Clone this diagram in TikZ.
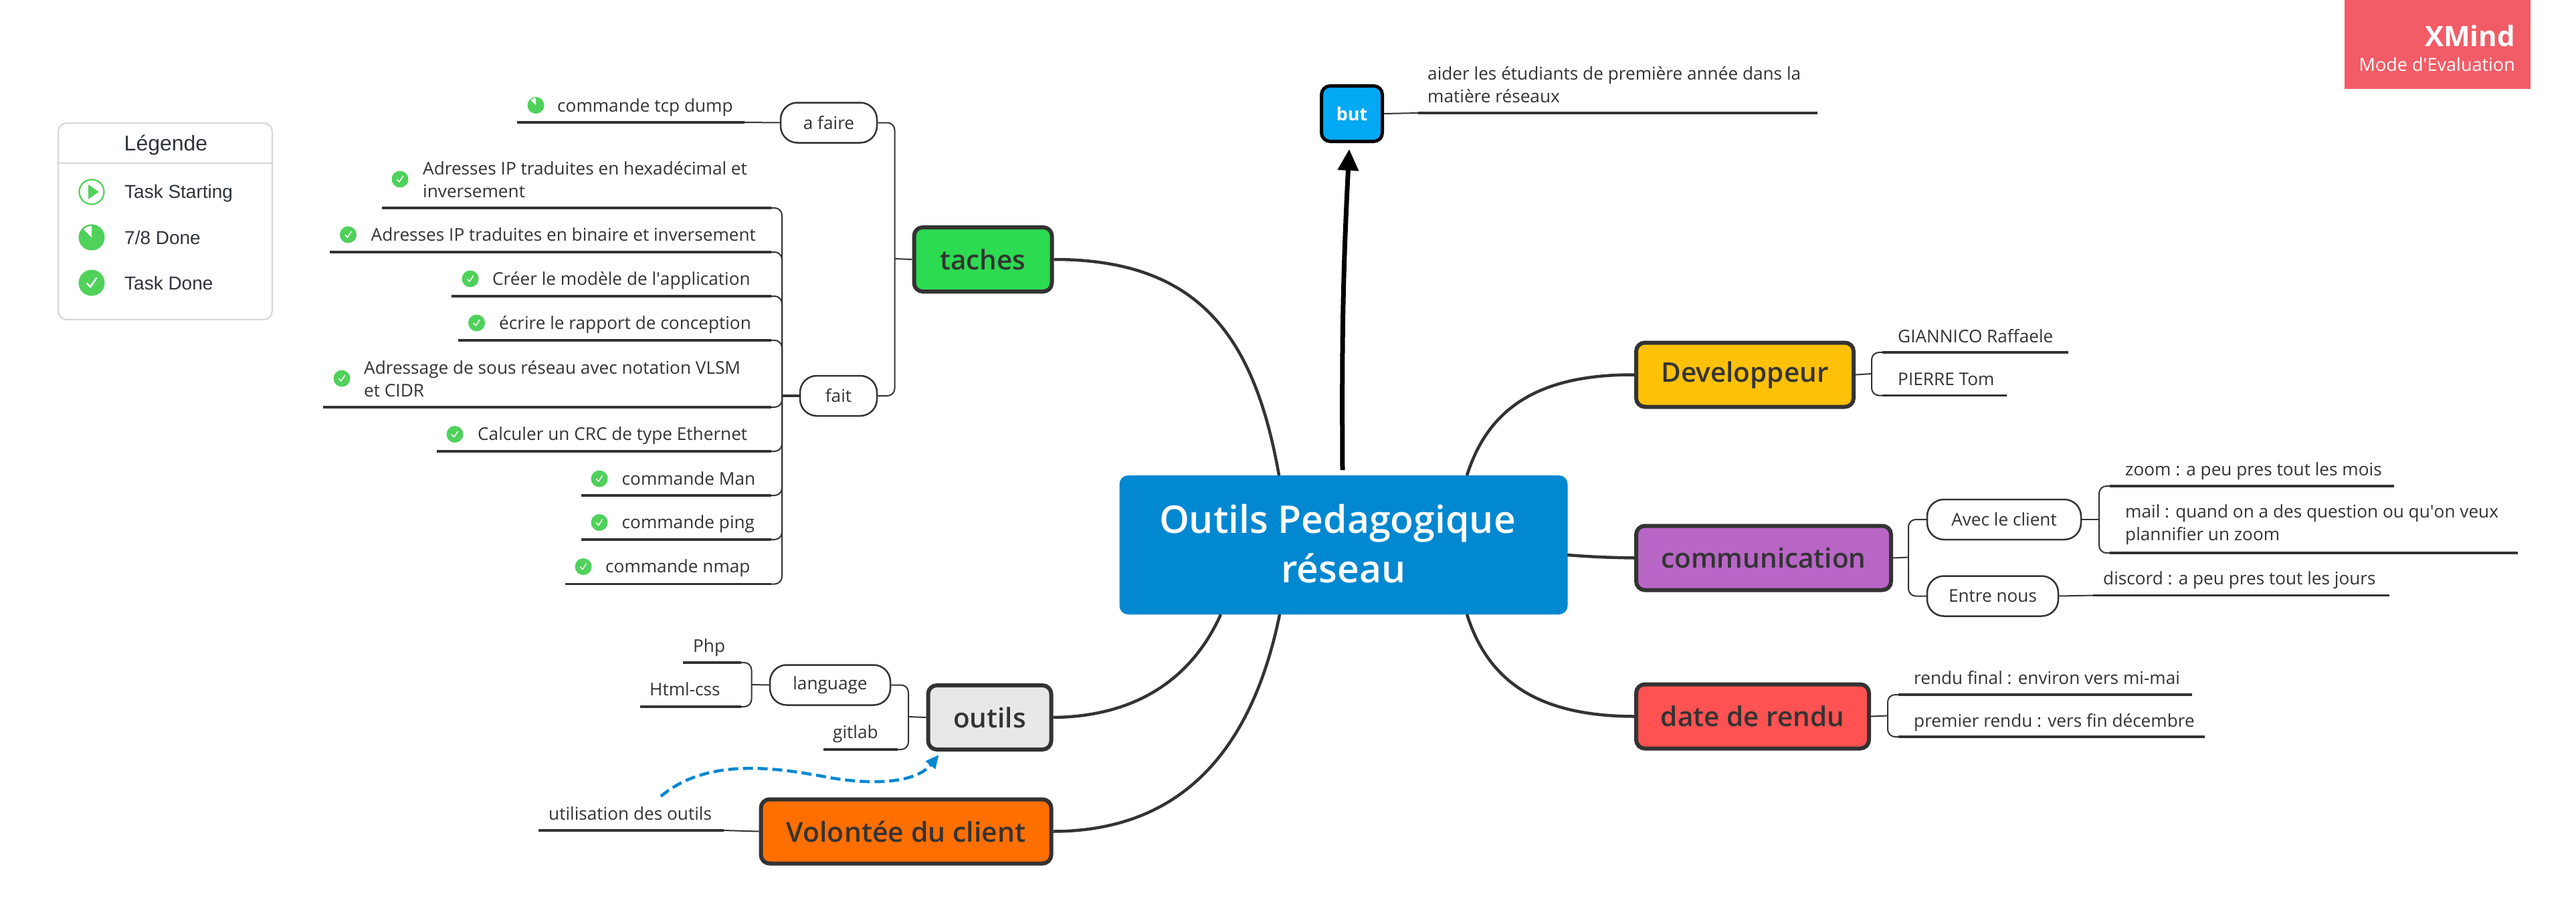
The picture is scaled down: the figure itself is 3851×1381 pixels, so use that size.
\documentclass[tikz,border=0pt]{standalone}
\usepackage{fontspec}
\usetikzlibrary{arrows.meta,calc}
\setmainfont{Open Sans}
\newfontfamily\legendfont{Liberation Sans}
\newfontfamily\semifont{Open Sans Semibold}
\newfontfamily\rootfont{Open Sans Semibold}
\definecolor{ink}{HTML}{333333}
\definecolor{legendink}{HTML}{2F343B}
\definecolor{legendline}{HTML}{D6D6D6}
\definecolor{doneg}{HTML}{4FD15A}
\newcommand\fs[2]{\fontsize{#1}{#2}\selectfont}
\newcommand\branch[2]{\draw[thinline,rounded corners=11pt] (#1) |- (#2); \draw[thickline,shorten >=16pt] (#2) -- (#2 -| #1);}
\newcommand\tickicon[3][12.5pt]{\fill[doneg] (#2,#3) circle [radius=#1];
  \begin{scope}[shift={(#2,#3)}]\pgfmathsetmacro\ss{#1/12.5pt}\draw[white,line width=\ss*1.6pt,line cap=round,line join=round] (-\ss*4.5,\ss*0.5) -- (-\ss*1.2,\ss*4) -- (\ss*4.5,-\ss*4.5);\end{scope}}
\newcommand\partdone[3][12.5pt]{\fill[doneg] (#2,#3) circle [radius=#1];
  \pgfmathsetmacro\rr{#1*0.87}\fill[white] (#2,#3) -- ++(0pt,\rr pt) arc (90:135:\rr pt) -- cycle;}
\tikzset{
  thinline/.style={line width=2pt,draw=ink},
  thickline/.style={line width=3.5pt,draw=ink},
  maincurve/.style={line width=4.5pt,draw=ink},
  topic/.style={draw=ink,line width=6pt,rounded corners=13pt,text=ink,inner sep=0pt,font=\semifont\fs{40.5}{48},align=center},
  pill/.style={draw=ink,fill=white,line width=2.5pt,rounded corners=25pt,text=ink,inner sep=0pt,font=\fs{26.2}{32},minimum height=60pt},
  leaf/.style={anchor=base west,inner sep=0pt,text=ink,font=\fs{26.2}{34}},
  leaftwo/.style={anchor=west,inner sep=0pt,text=ink,font=\fs{26.2}{34},align=left},
  legendtext/.style={anchor=west,inner sep=0pt,text=legendink,font=\legendfont\fs{28}{32}},
}
\begin{document}
\begin{tikzpicture}[x=1pt,y=-1pt]
\useasboundingbox (0,0) rectangle (3851,1381);
% watermark
\fill[fill={rgb,255:red,242;green,92;blue,102}] (3505,0) rectangle (3783,133);
\node[anchor=base east,inner sep=0pt,text=white,font=\fs{42}{48}\bfseries] (wm1) at (3760,70) {XMind};
\node[anchor=base east,inner sep=0pt,text=white,font=\fs{27}{32}] (wm2) at (3760,106) {Mode d\textquotesingle Evaluation};
% legend
\draw[legendline,line width=2.2pt,rounded corners=13pt] (87,184) rectangle (407,478);
\draw[legendline,line width=2.2pt] (87,244) -- (407,244);
\node[anchor=center,inner sep=0pt,text=legendink,font=\legendfont\fs{32}{36}] (lg) at (248,217) {Légende};
\node[legendtext] (lg1) at (186,289) {Task Starting};
\node[legendtext] (lg2) at (186,355) {7/8 Done};
\node[legendtext] (lg3) at (186,423) {Task Done};
\draw[doneg,line width=2.2pt] (137,287) circle [radius=18.5pt];
\fill[doneg] (132,276) -- (147.5,287) -- (132,298) -- cycle;
\partdone[19.5pt]{137}{355}
\tickicon[19.5pt]{137}{423}
% central
\node[fill={rgb,255:red,2;green,136;blue,209},rounded corners=13pt,minimum width=670pt,minimum height=208pt,inner sep=0pt,text=white,font=\rootfont\fs{57}{74},align=center] (root) at (2008.5,815) {Outils Pedagogique\hspace*{18pt}\\réseau\rule[-4pt]{0pt}{1pt}};
% topics
\node[topic,fill={rgb,255:red,44;green,219;blue,80},minimum width=206pt,minimum height=96pt] (taches) at (1469.5,388) {taches};
\node[topic,fill={rgb,255:red,232;green,232;blue,232},minimum width=184pt,minimum height=96pt] (outils) at (1479.5,1073) {outils};
\node[topic,fill={rgb,255:red,255;green,111;blue,0},minimum width=434pt,minimum height=96pt] (volonte) at (1354.5,1243.5) {\fs{41}{48}Volontée du client};
\node[topic,fill={rgb,255:red,255;green,193;blue,7},minimum width=325pt,minimum height=96pt] (dev) at (2608.5,560.5) {Developpeur};
\node[topic,fill={rgb,255:red,184;green,102;blue,198},minimum width=381pt,minimum height=96pt] (comm) at (2636.5,834.5) {communication};
\node[topic,fill={rgb,255:red,255;green,82;blue,82},minimum width=348pt,minimum height=96pt] (date) at (2620,1071.5) {date de rendu};
\node[topic,draw=black,line width=5pt,fill={rgb,255:red,3;green,169;blue,244},text=white,font=\fs{27}{32}\bfseries,minimum width=91pt,minimum height=83pt] (but) at (2021,170) {but};
% main curves
\draw[maincurve] (1912,711) .. controls (1875,500) and (1790,388) .. (taches.east);
\draw[maincurve] (2193,711) .. controls (2225,610) and (2300,560) .. (dev.west);
\draw[maincurve] (2343,830) .. controls (2380,833) and (2410,834) .. (comm.west);
\draw[maincurve] (2193,919) .. controls (2225,1020) and (2300,1071) .. (date.west);
\draw[maincurve] (1825,919) .. controls (1775,1030) and (1680,1072) .. (outils.east);
\draw[maincurve] (1913,919) .. controls (1870,1130) and (1760,1243) .. (volonte.east);
% arrow to but
\coordinate (arrA) at (2007,703);
\coordinate (arrB) at (2017,223);
\draw[line width=7pt,black,-{Triangle[length=32pt,width=30pt]}] (arrA) .. controls (2006,520) and (2007,420) .. (arrB);
% but leaf
\coordinate (butL) at (2120,169);
\coordinate (butR) at (2717,169);
\draw[thinline] (but.east) -- (butL);
\draw[thickline] (butL) -- (butR);
\node[leaftwo] (butT) at (2134,126.5) {aider les étudiants de première année dans la\\matière réseaux};
% taches branches
\coordinate (tT) at (1337.5,387);
\node[pill,minimum width=144pt] (afaire) at (1239,183.5) {a faire};
\node[pill,minimum width=115pt] (fait) at (1253.5,592) {fait};
\draw[thinline] (taches.west) -- (tT);
\draw[thinline,rounded corners=11pt] (tT) |- (afaire.east);
\draw[thinline,rounded corners=11pt] (tT) |- (fait.east);
% a faire
\coordinate (afL) at (773,183);
\coordinate (afM) at (1113,183);
\draw[thinline] (afaire.west) -- (afM);
\draw[thickline] (afL) -- (afM);
\partdone{801}{157.5}
\node[leaf] (af1) at (833,167) {commande tcp dump};
% fait
\coordinate (fT) at (1169,592);
\draw[thickline] (fait.west) -- (fT);
\foreach \n/\lx/\ly in {f1/571/311,f2/493/377,f3/675/443,f4/685/509,f5/483/609,f6/653/675,f7/869/741,f8/869/807,f9/845/873.5}{
  \coordinate (\n) at (\lx,\ly);
  \branch{fT}{\n}
}
\tickicon{598}{268}
\node[leaftwo] (f1t) at (632,268.5) {Adresses IP traduites en hexadécimal et\\inversement};
\tickicon{520.5}{351}
\node[leaf] (f2t) at (554.5,360) {Adresses IP traduites en binaire et inversement};
\tickicon{703}{417}
\node[leaf] (f3t) at (736,426) {Créer le modèle de l\textquotesingle application};
\tickicon{712.5}{483}
\node[leaf] (f4t) at (746,492) {écrire le rapport de conception};
\tickicon{511}{566}
\node[leaftwo] (f5t) at (544,566.5) {Adressage de sous réseau avec notation VLSM\\et CIDR};
\tickicon{680}{649.5}
\node[leaf] (f6t) at (714,658.5) {Calculer un CRC de type Ethernet};
\tickicon{896}{716}
\node[leaf] (f7t) at (929.5,725) {commande Man};
\tickicon{896}{781.5}
\node[leaf] (f8t) at (929.5,790.5) {commande ping};
\tickicon{872}{847.5}
\node[leaf] (f9t) at (905,856.5) {commande nmap};
% outils branches
\coordinate (oT) at (1358,1072);
\node[pill,minimum width=180pt] (lang) at (1241,1024.5) {language};
\draw[thinline] (outils.west) -- (oT);
\draw[thinline,rounded corners=11pt] (oT) |- (lang.east);
\coordinate (git) at (1231,1121);
\branch{oT}{git}
\node[leaf] (gitT) at (1245,1104) {gitlab};
\coordinate (lT) at (1123.5,1024);
\draw[thinline] (lang.west) -- (lT);
\coordinate (php) at (1021,991);
\coordinate (html) at (957,1057);
\branch{lT}{php}
\branch{lT}{html}
\node[leaf] (phpT) at (1036,975) {Php};
\node[leaf] (htmlT) at (971,1040) {Html-css};
% volonte
\coordinate (uL) at (805,1242);
\coordinate (uM) at (1082,1242);
\draw[thinline] (volonte.west) -- (uM);
\draw[thickline] (uL) -- (uM);
\node[leaf] (uT) at (820,1226) {utilisation des outils};
% dashed relation
\coordinate (dA) at (988,1191);
\coordinate (dB) at (1403.5,1129);
\draw[line width=4.5pt,draw={rgb,255:red,2;green,136;blue,209},dash pattern=on 15pt off 7pt,-{Triangle[length=20pt,width=18pt,fill={rgb,255:red,2;green,136;blue,209}]}] (dA) .. controls (1060,1130) and (1170,1150) .. (1240,1163) .. controls (1310,1175) and (1370,1170) .. (dB);
% dev
\coordinate (dT) at (2798,559);
\coordinate (d1) at (3092,527);
\coordinate (d2) at (3000,591.5);
\draw[thinline] (dev.east) -- (dT);
\branch{dT}{d1}
\branch{dT}{d2}
\node[leaf] (d1t) at (2837,512) {GIANNICO Raffaele};
\node[leaf] (d2t) at (2837,576) {PIERRE Tom};
% comm
\coordinate (cT) at (2853,833.5);
\node[pill,minimum width=230pt] (avec) at (2996,777) {Avec le client};
\node[pill,minimum width=196pt] (entre) at (2979,891.5) {Entre nous};
\draw[thinline] (comm.east) -- (cT);
\draw[thinline,rounded corners=11pt] (cT) |- (avec.west);
\draw[thinline,rounded corners=11pt] (cT) |- (entre.west);
\coordinate (aT) at (3138,777);
\coordinate (a1) at (3579,727);
\coordinate (a2) at (3764,827);
\draw[thinline] (avec.east) -- (aT);
\branch{aT}{a1}
\branch{aT}{a2}
\node[leaf] (a1t) at (3177,711) {zoom : a peu pres tout les mois};
\node[leaftwo] (a2t) at (3177,785) {mail : quand on a des question ou qu\textquotesingle on veux\\plannifier un zoom};
\coordinate (eM) at (3129,890.5);
\coordinate (eR) at (3572,890.5);
\draw[thinline] (entre.east) -- (eM);
\draw[thickline] (eM) -- (eR);
\node[leaf] (e1t) at (3144,874.5) {discord : a peu pres tout les jours};
% date
\coordinate (rT) at (2822,1070.5);
\coordinate (r1) at (3277,1039);
\coordinate (r2) at (3296,1102);
\draw[thinline] (date.east) -- (rT);
\branch{rT}{r1}
\branch{rT}{r2}
\node[leaf] (r1t) at (2861,1023) {rendu final : environ vers mi-mai};
\node[leaf] (r2t) at (2861,1087) {premier rendu : vers fin décembre};
\end{tikzpicture}
\end{document}
